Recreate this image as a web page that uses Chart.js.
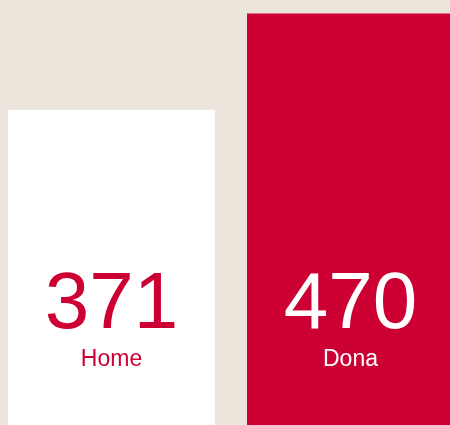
<!DOCTYPE html>
<html>
<head>
<meta charset="utf-8">
<script src="https://cdn.jsdelivr.net/npm/chart.js@4/dist/chart.umd.min.js"></script>
<style>
    html, body {
        margin: 0;
        padding: 0;
        width: 450px;
        height: 425px;
        overflow: hidden;
        background: #ebe5dc;
    }
    #wrap {
        position: absolute;
        left: -8px;
        top: 0;
        width: 478px;
        height: 425px;
    }
</style>
</head>
<body>
<div id="wrap"><canvas id="barChart"></canvas></div>
<script>
const categories = ['Home', 'Dona'];
const counts = [371, 470];

const RED = '#cc0033';
const WHITE = '#ffffff';

// value + name written inside each bar
const barLabels = {
    id: 'barLabels',
    afterDatasetsDraw(chart) {
        const ctx = chart.ctx;
        const meta = chart.getDatasetMeta(0);
        const bottom = chart.chartArea.bottom;
        ctx.save();
        ctx.textAlign = 'center';
        ctx.textBaseline = 'alphabetic';
        meta.data.forEach((bar, i) => {
            ctx.fillStyle = i === 0 ? RED : WHITE;
            ctx.font = '80px "Liberation Sans", Arial, sans-serif';
            ctx.fillText(String(counts[i]), bar.x, bottom - 97);
            ctx.font = '23px "Liberation Sans", Arial, sans-serif';
            ctx.fillText(categories[i], bar.x, bottom - 59);
        });
        ctx.restore();
    }
};

new Chart(document.getElementById('barChart'), {
    type: 'bar',
    data: {
        labels: categories,
        datasets: [{
            data: counts,
            backgroundColor: [WHITE, RED],
            borderWidth: 0,
            categoryPercentage: 1,
            barPercentage: 207 / 239
        }]
    },
    options: {
        responsive: true,
        maintainAspectRatio: false,
        animation: false,
        layout: { padding: 0 },
        plugins: {
            legend: { display: false },
            tooltip: { enabled: false }
        },
        scales: {
            x: { display: false },
            y: { display: false, min: 46, max: 484 }
        }
    },
    plugins: [barLabels]
});
</script>
</body>
</html>
